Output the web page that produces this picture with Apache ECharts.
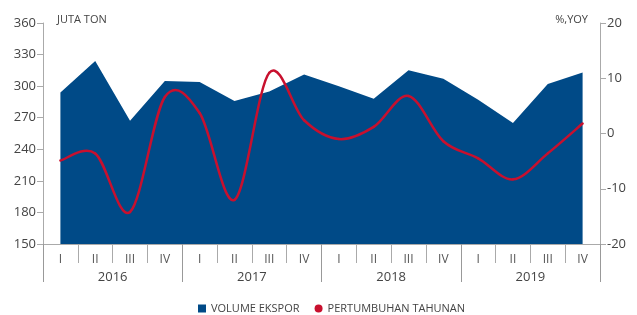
<!DOCTYPE html>
<html><head><meta charset="utf-8">
<script src="https://cdn.jsdelivr.net/npm/echarts@6/dist/echarts.min.js"></script>
<style>html,body{margin:0;padding:0;background:#fff}#c{width:637px;height:315px}</style>
</head><body><div id="c"></div>
<script>
const quarters = ['I','II','III','IV','I','II','III','IV','I','II','III','IV','I','II','III','IV'];
const years = ['2016','2017','2018','2019'];
const volumeEkspor = [294,324,267,305,304,286,295,311,300,288,315,307,287,265,302,313];
const pertumbuhanTahunan = [-4.9,-3.6,-14.2,6.6,3.7,-12.0,11.0,2.4,-1.0,1.2,6.8,-1.4,-4.5,-8.3,-3.6,1.8];
const leftTicks = {min:150, max:360, interval:30};
const rightTicks = {min:-20, max:20, interval:10};

const FONT = '"Open Sans", "Noto Sans", sans-serif';
const RED = '#c8102e';
const BLUE = '#004a87';

// Smooth (Catmull-Rom style) line through the data points, positioned via api.coord
function renderSmooth(params, api) {
  if (params.dataIndex !== 0) return null;
  const pts = pertumbuhanTahunan.map((v, i) => api.coord([i, v]));
  const n = pts.length;
  const children = [];
  for (let i = 0; i < n - 1; i++) {
    const p0 = pts[Math.max(0, i - 1)], p1 = pts[i], p2 = pts[i + 1], p3 = pts[Math.min(n - 1, i + 2)];
    children.push({
      type: 'bezierCurve', z2: 10,
      shape: {
        x1: p1[0], y1: p1[1], x2: p2[0], y2: p2[1],
        cpx1: p1[0] + (p2[0] - p0[0]) / 6, cpy1: p1[1] + (p2[1] - p0[1]) / 6,
        cpx2: p2[0] - (p3[0] - p1[0]) / 6, cpy2: p2[1] - (p3[1] - p1[1]) / 6
      },
      style: { stroke: RED, lineWidth: 2.5, fill: null, lineCap: 'round' }
    });
  }
  return { type: 'group', children };
}

const chart = echarts.init(document.getElementById('c'), null, {renderer:'canvas'});
chart.setOption({
  animation:false,
  textStyle:{fontFamily:FONT},
  grid:{left:43, right:37, top:23, bottom:71},
  legend:{
    top:298, left:193, itemWidth:8, itemHeight:8, itemGap:15,
    textStyle:{fontSize:11, color:'#444', fontFamily:FONT},
    data:[{name:'VOLUME EKSPOR', icon:'rect', itemStyle:{color:BLUE}},{name:'PERTUMBUHAN TAHUNAN', icon:'circle', itemStyle:{color:RED}}]
  },
  xAxis:[
    {type:'category', data:quarters, boundaryGap:true, position:'bottom',
     axisLine:{show:true, onZero:false, lineStyle:{color:'#aaa', width:1}},
     axisTick:{show:true, length:19, alignWithLabel:false, lineStyle:{color:'#aaa'}},
     axisLabel:{fontSize:12, color:'#555', margin:10, fontFamily:FONT}},
    {type:'category', data:years, boundaryGap:true, position:'bottom',
     axisLine:{show:false, onZero:false},
     axisTick:{show:true, length:38, lineStyle:{color:'#999'}},
     axisLabel:{fontSize:13, color:'#444', margin:27, fontFamily:FONT}}
  ],
  yAxis:[
    {type:'value', min:leftTicks.min, max:leftTicks.max, interval:leftTicks.interval, position:'left',
     name:'JUTA TON', nameLocation:'end', nameGap:3,
     nameTextStyle:{align:'left', verticalAlign:'middle', padding:[0,0,0,14], fontSize:11, color:'#444', fontFamily:FONT},
     splitLine:{show:false},
     axisLine:{show:true, lineStyle:{color:'#aaa'}},
     axisTick:{show:true, length:6, lineStyle:{color:'#aaa'}},
     axisLabel:{fontSize:13, color:'#444', margin:7, fontFamily:FONT}},
    {type:'value', min:rightTicks.min, max:rightTicks.max, interval:rightTicks.interval, position:'right',
     name:'%,YOY', nameLocation:'end', nameGap:3,
     nameTextStyle:{align:'right', verticalAlign:'middle', padding:[0,12,0,0], fontSize:11, color:'#444', fontFamily:FONT},
     splitLine:{show:false},
     axisLine:{show:true, lineStyle:{color:'#aaa'}},
     axisTick:{show:true, length:6, lineStyle:{color:'#aaa'}},
     axisLabel:{fontSize:13, color:'#444', margin:7, fontFamily:FONT}}
  ],
  series:[
    {name:'VOLUME EKSPOR', type:'line', xAxisIndex:0, yAxisIndex:0, data:volumeEkspor, z:1,
     symbol:'none', lineStyle:{width:0, color:BLUE}, itemStyle:{color:BLUE},
     areaStyle:{color:BLUE, opacity:1, origin:'start'}},
    {name:'PERTUMBUHAN TAHUNAN', type:'custom', xAxisIndex:0, yAxisIndex:1, z:10,
     data:pertumbuhanTahunan.map((v, i) => [i, v]),
     encode:{x:0, y:1}, itemStyle:{color:RED}, renderItem:renderSmooth, clip:false}
  ]
});
</script></body></html>
